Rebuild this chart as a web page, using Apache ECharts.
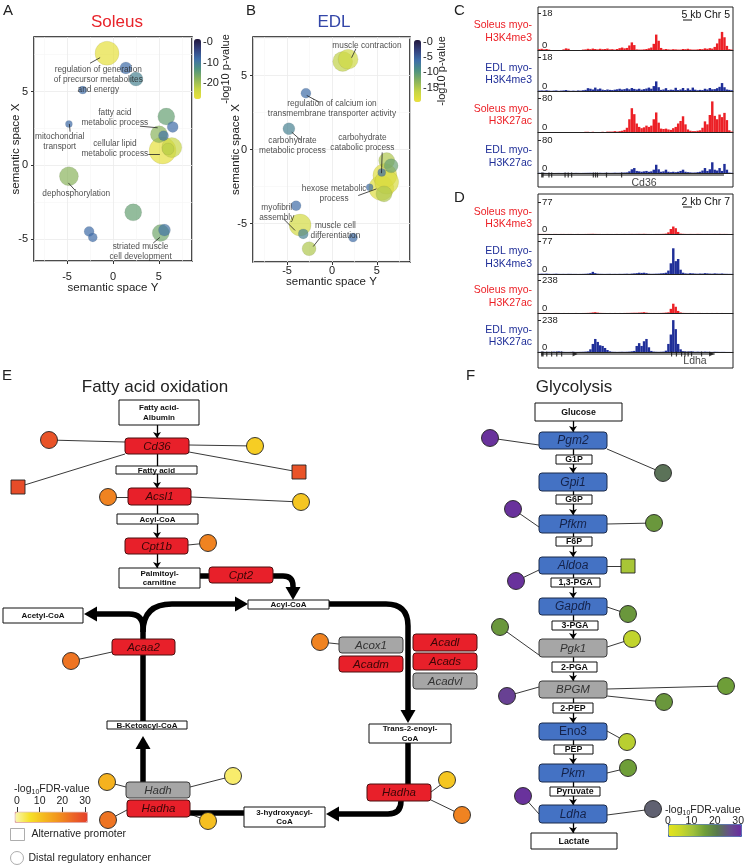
<!DOCTYPE html>
<html>
<head>
<meta charset="utf-8">
<title>Soleus vs EDL</title>
<script src="https://cdn.jsdelivr.net/npm/echarts@6.0.0/dist/echarts.min.js"></script>
<style>
html,body{margin:0;padding:0;background:#ffffff;}
#chart{width:747px;height:865px;}
</style>
</head>
<body>
<div id="chart"></div>
<script>
const FONT = '"Liberation Sans", Arial, Helvetica, sans-serif';

// ================= DATA =================
// Panel A (Soleus) REVIGO: [semantic space Y, semantic space X, bubble size, -log10 p-value (signed)]
const soleusPoints = [
  [-0.65, 7.6, 24, -27], [1.4, 6.6, 12, -8], [2.5, 5.85, 14, -11], [-3.3, 5.1, 8, -8],
  [-4.8, 2.8, 7, -8], [5.8, 3.3, 17, -15], [6.5, 2.6, 11, -8], [5.0, 2.1, 17, -18],
  [5.5, 2.0, 10, -9], [5.4, 1.0, 27, -27], [6.4, 1.2, 20, -23], [6.0, 1.1, 12, -22],
  [-4.8, -0.75, 19, -18], [2.2, -3.2, 17, -15], [-2.6, -4.5, 10, -8], [-2.2, -4.9, 9, -8],
  [5.2, -4.6, 17, -16], [5.6, -4.4, 12, -9]
];
const soleusLabels = [
  ['regulation of generation\nof precursor metabolites\nand energy', -1.6, 5.8],
  ['fatty acid\nmetabolic process', 0.2, 3.25],
  ['mitochondrial\ntransport', -5.8, 1.6],
  ['cellular lipid\nmetabolic process', 0.2, 1.15],
  ['dephosphorylation', -4.0, -1.93],
  ['striated muscle\ncell development', 3.0, -5.9]
];
const soleusLeaders = [
  [[-2.5, 6.92], [-1.4, 7.3]], [[2.93, 2.65], [4.86, 2.54]], [[-4.75, 2.8], [-4.67, 2.27]],
  [[3.84, 0.73], [5.1, 0.73]], [[-4.86, -1.2], [-4.13, -1.7]], [[4.38, -5.28], [5.1, -4.9]]
];
const soleusTicks = [0, -10, -20];

// Panel B (EDL)
const edlPoints = [
  [1.2, 5.95, 20, -16], [1.8, 6.1, 20, -17], [-2.9, 3.8, 10, -6], [-4.8, 1.4, 12, -8],
  [6.1, -0.75, 16, -15], [6.6, -1.1, 14, -11], [5.55, -1.55, 8, -6], [5.9, -1.75, 24, -18.5],
  [6.1, -2.2, 24, -18], [5.5, -2.6, 25, -18.5], [5.8, -3.0, 16, -15], [4.2, -2.55, 7, -6],
  [-4.0, -3.8, 10, -6], [-3.55, -5.1, 22, -17.5], [-3.2, -5.7, 10, -8], [2.35, -5.95, 9, -6],
  [-2.55, -6.7, 14, -15]
];
const edlLabels = [
  ['muscle contraction', 3.9, 7.03],
  ['regulation of calcium ion\ntransmembrane transporter activity', 0.0, 2.75],
  ['carbohydrate\nmetabolic process', -4.4, 0.27],
  ['carbohydrate\ncatabolic process', 3.39, 0.49],
  ['hexose metabolic\nprocess', 0.24, -2.99],
  ['myofibril\nassembly', -6.15, -4.24],
  ['muscle cell\ndifferentiation', 0.39, -5.52]
];
const edlLeaders = [
  [[2.67, 6.8], [2.19, 6.2]], [[-2.81, 3.65], [-1.41, 3.2]], [[-4.48, 1.17], [-3.44, 0.61]],
  [[5.6, -0.2], [5.52, -1.6]], [[2.93, -3.11], [4.96, -2.66]], [[-5.41, -4.68], [-4.11, -5.47]],
  [[-1.33, -5.97], [-2.08, -6.55]]
];
const edlTicks = [0, -5, -10, -15];

// Panels C/D: coverage in 80 genomic bins
const trackBins = Array.from({length: 80}, (_, i) => String(i));
const cTrackNames = ['Soleus myo-\nH3K4me3', 'EDL myo-\nH3K4me3', 'Soleus myo-\nH3K27ac', 'EDL myo-\nH3K27ac'];
const cTrackMax = [18, 18, 80, 80];
const cSolK4 = [0.4,0.6,0.3,0.5,0.2,0,0,0,0,0, 0.3,0.8,0.6,0,0,0,0,0,0.2,0.3,
  0.6,0.4,0.7,0.5,0.3,0.6,0.4,0.5,0.7,0.3, 0.4,0.2,0.5,0.9,1.2,0.8,1.0,2.2,3.7,2.4,
  0.3,0.2,0.2,0.3,0.5,0.8,1.2,3.0,7.5,4.5, 1.0,0.3,0.5,0.3,0.2,0.4,0.3,0.2,0.2,0.5,
  0.4,0.6,0.3,0.2,0.2,0.3,0.5,0.4,0.8,0.6, 0.9,0.7,1.5,3.2,5.5,8.8,6.2,2.0,0.4,0.2];
const cEdlK4 = [0.2,0.3,0.2,0.4,0.2,0.1,0.2,0.3,0.1,0.2, 0.3,0.5,0.2,0.1,0.2,0.1,0.3,0.2,0.4,0.6,
  1.5,1.2,0.8,1.8,0.9,1.3,0.7,0.5,0.8,0.6, 0.5,0.7,0.9,1.2,0.8,1.0,1.4,0.9,1.6,1.1,
  0.8,1.2,0.7,1.0,1.3,1.8,1.2,2.6,5.1,2.0, 0.6,0.8,1.5,0.5,0.7,0.6,1.7,0.5,0.8,1.6,
  0.5,1.4,0.6,1.8,0.7,0.4,0.6,0.5,1.2,0.8, 1.6,0.9,1.0,1.5,2.2,4.2,2.0,0.8,0.6,0.4];
const cSolK27 = [0,0,0,0,0,0,0,0,0,0, 0,0,0,0,0,0,0,0,0,0.5,
  0.5,0,0.5,0,0,0,0.5,0,1,1, 1,2,1,2,3,5,10,30,56,42,
  20,12,9,11,15,12,15,30,46,22, 8,7,8,6,5,9,12,20,26,37,
  18,6,3,2,2,3,4,10,25,18, 40,72,38,30,41,35,45,28,4,1];
const cEdlK27 = [0.5,0.3,0.4,0.2,0.3,0.2,0.1,0.2,0.3,0.2, 0.3,0.4,0.2,0.3,0.2,0.4,0.3,0.2,0.3,0.4,
  0.5,0.6,0.4,0.5,0.3,0.6,0.4,0.5,0.6,0.4, 0.5,0.8,0.6,0.7,1.0,1.2,1.5,4,9,12,
  5,4,3,4,5,3,4,8,20,9, 3,4,8,3,2,3,2,3,5,8,
  3,2,1.5,1,1.2,2,3,6,12,5, 9,26,8,6,12,5,22,8,1,0.5];
const cExons = [1.8, 4.5, 5.6, 11.1, 12.4, 13.8, 22.7, 23.6, 24.4, 28.1, 34.3];
const cGene = ['Cd36', 1.8, 76.3, 43.5];

const dTrackMax = [77, 77, 238, 238];
const dSolK4 = [0.3,0.2,0.2,0.3,0.2,0.1,0.2,0.2,0.1,0.2, 0.2,0.1,0.2,0.2,0.1,0.1,0.2,0.1,0.1,0.2,
  0.3,0.4,0.5,0.3,0.2,0.2,0.1,0.1,0.2,0.1, 0.1,0.1,0.2,0.1,0.1,0.2,0.1,0.2,0.3,0.2,
  0.3,0.4,0.3,0.5,0.3,0.2,0.1,0.1,0.2,0.2, 0.3,0.5,1,4,12,18,14,5,1,0.5,
  0.3,0.2,0.3,0.2,0.2,0.4,0.3,0.2,0.2,0.3, 0.2,0.2,0.3,0.2,0.4,0.2,0.3,0.2,0.1,0.1];
const dEdlK4 = [0.5,0.8,0.6,1,0.5,0.3,0.5,0.8,0.4,0.3, 0.4,0.3,0.5,0.4,0.3,0.3,0.2,0.3,0.4,0.6,
  1,2,5,2,0.8,0.5,0.4,0.3,0.4,0.5, 0.3,0.4,0.3,0.5,0.4,0.6,0.8,0.5,1,1.5,
  2,3,2.5,3,2,0.8,0.5,0.6,0.8,1, 1.5,2,3,8,25,60,30,35,10,3,
  1.5,1,2,1.5,1,0.8,1.2,1,2,1.5, 1,0.8,1.5,1,0.8,1.2,0.6,0.5,0.4,0.3];
const dSolK27 = [0.5,0.3,0.5,0.4,0.3,0.2,0.3,0.5,0.3,0.2, 0.3,0.2,0.3,0.2,0.2,0.3,0.2,0.2,0.3,0.5,
  1,2,4,6,3,1,0.5,0.3,0.2,0.3, 0.2,0.3,0.2,0.3,0.2,0.5,0.8,1,1.5,2,
  2,3,4,6,3,1,0.5,0.5,0.3,0.5, 0.8,1.5,3,5,30,67,45,15,4,1,
  0.5,0.3,0.5,0.3,0.2,0.3,0.5,0.3,0.2,0.3, 0.2,0.3,0.2,0.3,0.2,0.3,0.2,0.2,0.1,0.1];
const dEdlK27 = [1,2,1.5,1,2,1,3,2,5,3, 1.5,1,1,1.5,2,1,1,1.5,2,3,
  5,20,60,97,75,50,45,30,15,5, 2,1.5,1,1.5,2,1.5,2,3,5,8,
  45,66,45,80,97,35,8,3,2,1.5, 2,3,10,60,130,237,170,60,20,6,
  4,3,5,4,2,3,2,1.5,3,2, 1.5,1,2,1.5,1,1,1,0.5,0.5,0.3];
const dExons = [1.8, 3.6, 5.6, 7.7, 9.7, 54.8, 56.8, 58.9, 60.3, 61.6, 63.0, 67.1];
const dStrand = [15.2, 71.2];
const dGene = ['Ldha', 1.2, 72.5, 64.4];

// Panel E: fatty acid oxidation (diagram units)
const faoNodes = [
  ['Fatty acid-\nAlbumin', 119,400,199,425,'met'], ['Cd36', 125,438,189,454,'red'],
  ['Fatty acid', 116,466,197,474,'met'], ['Acsl1', 128,488,191,505,'red'],
  ['Acyl-CoA', 117,514,198,524,'met'], ['Cpt1b', 125,538,188,554,'red'],
  ['Palmitoyl-\ncarnitine', 119,568,200,588,'met'], ['Cpt2', 209,567,273,583,'red'],
  ['Acyl-CoA', 248,600,329,609,'met'], ['Acetyl-CoA', 3,608,83,623,'met'],
  ['Acaa2', 112,639,175,655,'red'], ['B-Ketoacyl-CoA', 107,721,187,729,'met'],
  ['Hadh', 126,782,190,798,'grey'], ['Hadha', 127,800,190,817,'red'],
  ['3-hydroxyacyl-\nCoA', 244,807,325,827,'met'], ['Hadha', 367,784,431,801,'red'],
  ['Trans-2-enoyl-\nCoA', 369,724,451,743,'met'], ['Acox1', 339,637,403,653,'grey'],
  ['Acadm', 339,656,403,672,'red'], ['Acadl', 413,634,477,651,'red'],
  ['Acads', 413,653,477,670,'red'], ['Acadvl', 413,673,477,689,'grey']
];
const faoSteps = [[157,425,157,438,1],[157,454,157,466,0],[157,474,157,488,1],
  [157,505,157,514,0],[157,524,157,538,1],[157,554,157,568,1]];
const faoFlux = [
  {segs:[['M',200,576],['L',209,576]], arrow:false},
  {segs:[['M',273,576],['L',283,576],['Q',293,576,293,586],['L',293,587]], arrow:true},
  {segs:[['M',329,604],['L',386,604],['Q',408,604,408,626],['L',408,710]], arrow:true},
  {segs:[['M',408,743],['L',408,784]], arrow:false},
  {segs:[['M',401,801],['Q',401,814,388,814],['L',339,814]], arrow:true},
  {segs:[['M',244,813],['L',190,813]], arrow:false},
  {segs:[['M',143,782],['L',143,749]], arrow:true},
  {segs:[['M',143,721],['L',143,655]], arrow:false},
  {segs:[['M',143,639],['L',143,628],['Q',143,614,129,614],['L',97,614]], arrow:true},
  {segs:[['M',143,632],['Q',143,604,172,604],['L',235,604]], arrow:true}
];
// regulatory elements: [x, y, shape (c=enhancer, s=alt promoter), -log10 FDR, gene anchor x, anchor y]
const faoMarkers = [
  [49,440,'c',27,125,442], [255,446,'c',9,189,445], [18,487,'s',28,125,454], [299,472,'s',27,189,452],
  [108,497,'c',20,128,497], [301,502,'c',10,191,497], [208,543,'c',20,188,545], [71,661,'c',22,112,652],
  [320,642,'c',20,339,644], [107,782,'c',13,126,787], [233,776,'c',3,190,787], [108,820,'c',22,127,810],
  [208,821,'c',11,190,814], [447,780,'c',10,431,792], [462,815,'c',20,431,800]
];

// Panel F: glycolysis
const glyNodes = [
  ['Glucose',535,403,622,421,'metF'], ['Pgm2',539,432,607,449,'blue'], ['G1P',556,455,592,464,'metF'],
  ['Gpi1',539,473,607,491,'blue'], ['G6P',556,495,592,504,'metF'], ['Pfkm',539,515,607,533,'blue'],
  ['F6P',556,537,592,546,'metF'], ['Aldoa',539,557,607,574,'blue'], ['1,3-PGA',551,578,600,587,'metF'],
  ['Gapdh',539,598,607,615,'blue'], ['3-PGA',552,621,598,630,'metF'], ['Pgk1',539,639,607,657,'grey'],
  ['2-PGA',552,662,597,672,'metF'], ['BPGM',539,681,607,698,'grey'], ['2-PEP',553,703,593,713,'metF'],
  ['Eno3',539,723,607,740,'blueN'], ['PEP',554,745,593,754,'metF'], ['Pkm',539,764,607,782,'blue'],
  ['Pyruvate',550,787,600,796,'metF'], ['Ldha',539,805,607,823,'blue'], ['Lactate',531,833,617,849,'metF']
];
const glyMarkers = [
  [490,438,'c',29,539,445], [663,473,'c',21,607,449], [513,509,'c',29,539,527], [654,523,'c',16,607,524],
  [628,566,'s',9,607,566], [516,581,'c',29,539,570], [628,614,'c',16,607,607], [500,627,'c',16,539,655],
  [632,639,'c',6,607,647], [507,696,'c',27,539,687], [726,686,'c',15,607,689], [664,702,'c',16,607,696],
  [627,742,'c',7,607,731], [628,768,'c',15,607,773], [523,796,'c',29,539,814], [653,809,'c',23,607,815]
];
const fdrTicks = [0, 10, 20, 30];

// ================= STYLE =================
const pvalColors = ['#ebe23a','#c6d545','#8ab35c','#4f937f','#3e6ea8','#33407c','#22163b'];
const faoColors = ['#faf6b0','#f6e128','#f5b81f','#f2921e','#ec6526','#e5402a'];
const glyColors = ['#e4e41c','#c9d82a','#a0c23a','#6e9e38','#587a4c','#66508a','#6a2ba0'];
const RED = '#ec2026', BLUE = '#1f2e98';
const BOX = {
  met:  {fill:'#fff', stroke:'#111', lw:1, r:0, color:'#111', size:8, weight:'bold', fstyle:'normal', lh:9.5},
  metF: {fill:'#fff', stroke:'#111', lw:1, r:0, color:'#111', size:8.8, weight:'bold', fstyle:'normal', lh:10},
  red:  {fill:'#e8202a', stroke:'#4a0e0e', lw:1, r:3, color:'#3a0606', size:11.5, weight:'normal', fstyle:'italic', lh:12},
  grey: {fill:'#a6a6a6', stroke:'#3a3a3a', lw:1, r:3, color:'#333', size:11.5, weight:'normal', fstyle:'italic', lh:12},
  blue: {fill:'#4472c4', stroke:'#1a2a4a', lw:1, r:3, color:'#14224a', size:12, weight:'normal', fstyle:'italic', lh:12},
  blueN:{fill:'#4472c4', stroke:'#1a2a4a', lw:1, r:3, color:'#14224a', size:12, weight:'normal', fstyle:'normal', lh:12}
};

// ================= BUILD =================
const grids = [], xAxes = [], yAxes = [], series = [], visualMaps = [];
function addGrid(g, xa, ya) {
  grids.push(g); const i = grids.length - 1;
  xa.gridIndex = i; ya.gridIndex = i; xAxes.push(xa); yAxes.push(ya); return i;
}
function addSeries(s) { series.push(s); return series.length - 1; }
const hiddenAxis = (o) => Object.assign({type:'value', show:false, splitLine:{show:false}, axisLine:{onZero:false}}, o || {});
const bySizeDesc = (pts) => pts.slice().sort((a, b) => b[2] - a[2]);

function scatterPanel(cfg) {
  const g = addGrid(
    {left:cfg.left, top:37, width:cfg.width, height:cfg.height, show:true, borderColor:'#111', borderWidth:1.5, backgroundColor:'#fff'},
    {type:'value', min:cfg.xr[0], max:cfg.xr[1], minInterval:5, maxInterval:5,
      axisLine:{show:false, onZero:false}, axisTick:{show:true, length:3, lineStyle:{color:'#333'}},
      axisLabel:{showMinLabel:false, showMaxLabel:false, fontSize:11, color:'#222', margin:cfg.xm, fontFamily:FONT},
      splitLine:{show:true, lineStyle:{color:'#ebebeb', width:0.8}},
      minorTick:{show:false, splitNumber:2}, minorSplitLine:{show:true, lineStyle:{color:'#f5f5f5', width:0.6}},
      name:'semantic space Y', nameLocation:'middle', nameGap:cfg.xg, nameMoveOverlap:false,
      nameTextStyle:{fontSize:11.5, color:'#222', fontFamily:FONT}},
    {type:'value', min:cfg.yr[0], max:cfg.yr[1], minInterval:5, maxInterval:5,
      axisLine:{show:false, onZero:false}, axisTick:{show:true, length:3, lineStyle:{color:'#333'}},
      axisLabel:{showMinLabel:false, showMaxLabel:false, fontSize:11, color:'#222', margin:cfg.ym, fontFamily:FONT},
      splitLine:{show:true, lineStyle:{color:'#ebebeb', width:0.8}},
      minorTick:{show:false, splitNumber:2}, minorSplitLine:{show:true, lineStyle:{color:'#f5f5f5', width:0.6}},
      name:'semantic space X', nameLocation:'middle', nameGap:cfg.yg, nameMoveOverlap:false,
      nameTextStyle:{fontSize:11.5, color:'#222', fontFamily:FONT}}
  );
  const pts = bySizeDesc(cfg.points);
  const si = addSeries({type:'scatter', xAxisIndex:g, yAxisIndex:g, data:pts, symbolSize:(v) => v[2],
    itemStyle:{opacity:0.7, borderColor:'rgba(60,60,60,0.25)', borderWidth:0.5}, z:3, silent:true});
  addSeries({type:'lines', coordinateSystem:'cartesian2d', xAxisIndex:g, yAxisIndex:g,
    data:cfg.leaders.map(c => ({coords:c})), lineStyle:{color:'#222', width:0.8, opacity:1}, symbol:'none', z:4, silent:true});
  const labs = cfg.labels;
  addSeries({type:'scatter', xAxisIndex:g, yAxisIndex:g, data:labs.map(l => [l[1], l[2]]), symbolSize:1,
    itemStyle:{color:'rgba(0,0,0,0)'}, z:5, silent:true,
    label:{show:true, position:'inside', formatter:(p) => labs[p.dataIndex][0], fontSize:8.3, lineHeight:10,
      color:'#222', align:'center', fontFamily:FONT}});
  // colour bar axis
  const cb = cfg.cb;
  addGrid({left:cb.left, top:cb.top, width:7, height:cb.h},
    hiddenAxis({min:0, max:1}),
    {type:'value', position:'right', min:cb.min, max:cb.max, axisLine:{show:false, onZero:false}, axisTick:{show:false}, splitLine:{show:false},
      axisLabel:{customValues:cb.ticks, formatter:(v) => v === 0 ? '-0' : String(v), fontSize:11, color:'#222', margin:2, fontFamily:FONT},
      name:'-log10 p-value', nameLocation:'middle', nameRotate:90, nameGap:cb.gap, nameMoveOverlap:false,
      nameTextStyle:{fontSize:11, color:'#222', fontFamily:FONT}});
  visualMaps.push({type:'continuous', seriesIndex:si, dimension:3, min:cb.min, max:cb.max, inRange:{color:pvalColors},
    show:true, orient:'vertical', left:cb.left, top:cb.top, itemWidth:7, itemHeight:cb.h, padding:0, calculable:false,
    hoverLink:false, text:null, showLabel:false});
}

scatterPanel({left:34, width:158, height:224, xr:[-8.6, 8.6], yr:[-6.5, 8.7], xm:10, xg:21, ym:6, yg:12,
  points:soleusPoints, labels:soleusLabels, leaders:soleusLeaders,
  cb:{left:194, top:39, h:60, min:-27.8, max:1.5, ticks:soleusTicks, gap:19}});
scatterPanel({left:253, width:157, height:225, xr:[-8.8, 8.7], yr:[-7.6, 7.6], xm:3, xg:14, ym:6, yg:11,
  points:edlPoints, labels:edlLabels, leaders:edlLeaders,
  cb:{left:414, top:40, h:62, min:-19.7, max:0.65, ticks:edlTicks, gap:15}});

// ---- genome browser panels ----
function trackPanel(cfg) {
  addGrid({left:538, top:cfg.box[0], width:195, height:cfg.box[1] - cfg.box[0], show:true, borderColor:'#222', borderWidth:1},
    hiddenAxis({min:0, max:1}), hiddenAxis({min:0, max:1}));
  cfg.tracks.forEach((tr, k) => {
    const [t, b] = cfg.layout[k];
    const col = k % 2 === 0 ? RED : BLUE;
    const g = addGrid({left:538, top:t, width:195, height:b - t},
      {type:'category', data:trackBins, boundaryGap:true, axisLine:{show:true, onZero:false, lineStyle:{color:'#222', width:1}},
        axisTick:{show:false}, axisLabel:{show:false}, splitLine:{show:false}},
      {type:'value', min:0, max:cfg.max[k], interval:cfg.max[k], axisLine:{show:false},
        axisTick:{show:true, inside:true, length:3, lineStyle:{color:'#222'}}, splitLine:{show:false},
        axisLabel:{inside:true, margin:4, fontSize:9.5, color:'#222', fontFamily:FONT,
          formatter:(v) => v === 0 ? '{lo|0}' : '{hi|' + v + '}',
          rich:{lo:{padding:[0,0,10,0], fontSize:9.5, color:'#222'}, hi:{padding:[1,0,0,0], fontSize:9.5, color:'#222'}}},
        name:cTrackNames[k], nameLocation:'middle', nameRotate:0, nameGap:6, nameMoveOverlap:false,
        nameTextStyle:{color:col, fontSize:10.5, lineHeight:12.5, align:'right', fontFamily:FONT}});
    addSeries({type:'bar', xAxisIndex:g, yAxisIndex:g, data:tr, barCategoryGap:'0%', barGap:'0%',
      itemStyle:{color:col}, silent:true, z:2});
  });
  const gene = cfg.gene;
  const gg = addGrid({left:538, top:cfg.geneTop, width:195, height:cfg.geneH},
    hiddenAxis({min:0, max:80}), hiddenAxis({min:0, max:cfg.geneH, inverse:true}));
  addSeries({type:'line', xAxisIndex:gg, yAxisIndex:gg, data:[[gene[1], 2], [gene[2], 2]], symbol:'none',
    lineStyle:{color:'#111', width:1}, silent:true});
  addSeries({type:'scatter', xAxisIndex:gg, yAxisIndex:gg, data:cfg.exons.map(e => [e, 2]),
    symbol:'rect', symbolSize:(v, p) => p.dataIndex === 0 ? [2.5, 5] : [1.2, 5], itemStyle:{color:'#111'}, silent:true});
  if (cfg.strand) addSeries({type:'scatter', xAxisIndex:gg, yAxisIndex:gg, data:cfg.strand.map(e => [e, 2]),
    symbol:'triangle', symbolRotate:-90, symbolSize:5, itemStyle:{color:'#111'}, silent:true});
  addSeries({type:'scatter', xAxisIndex:gg, yAxisIndex:gg, data:[[gene[3], cfg.labelY]], symbolSize:1,
    itemStyle:{color:'rgba(0,0,0,0)'}, silent:true,
    label:{show:true, position:'inside', formatter:gene[0], fontSize:10.5, color:'#111', fontFamily:FONT}});
}
trackPanel({box:[7, 187], layout:[[13,50],[57,91],[98,132],[140,173]], max:cTrackMax,
  tracks:[cSolK4, cEdlK4, cSolK27, cEdlK27], gene:cGene, exons:cExons, geneTop:173, geneH:14, labelY:10});
trackPanel({box:[194, 368], layout:[[202,234],[241,274],[280,313],[320,352]], max:dTrackMax,
  tracks:[dSolK4, dEdlK4, dSolK27, dEdlK27], gene:dGene, exons:dExons, strand:dStrand, geneTop:352, geneH:16, labelY:9});

// ---- pathway diagrams ----
const gD = addGrid({left:0, top:0, width:747, height:865},
  hiddenAxis({min:0, max:747}), hiddenAxis({min:0, max:865, inverse:true}));

function boxRenderer(nodes) {
  return function (params, api) {
    const nd = nodes[params.dataIndex];
    const p1 = api.coord([nd[1], nd[2]]), p2 = api.coord([nd[3], nd[4]]);
    const st = BOX[nd[5]];
    const x = Math.min(p1[0], p2[0]), y = Math.min(p1[1], p2[1]);
    const w = Math.abs(p2[0] - p1[0]), h = Math.abs(p2[1] - p1[1]);
    return {type:'group', children:[
      {type:'rect', shape:{x:x, y:y, width:w, height:h, r:st.r}, style:{fill:st.fill, stroke:st.stroke, lineWidth:st.lw}},
      {type:'text', style:{text:nd[0], x:x + w / 2, y:y + h / 2 + 0.5, align:'center', verticalAlign:'middle', fill:st.color,
        fontSize:st.size, fontWeight:st.weight, fontStyle:st.fstyle, fontFamily:FONT, lineHeight:st.lh}}
    ]};
  };
}
function fluxRenderer(paths) {
  return function (params, api) {
    const p = paths[params.dataIndex];
    let d = '', last = null, prev = null;
    p.segs.forEach(s => {
      if (s[0] === 'Q') {
        const c = api.coord([s[1], s[2]]), q = api.coord([s[3], s[4]]);
        d += 'Q' + c[0] + ' ' + c[1] + ' ' + q[0] + ' ' + q[1] + ' '; prev = c; last = q;
      } else {
        const q = api.coord([s[1], s[2]]);
        d += s[0] + q[0] + ' ' + q[1] + ' '; prev = last; last = q;
      }
    });
    const children = [{type:'path', shape:{pathData:d}, style:{stroke:'#000', lineWidth:5.5, fill:null, lineJoin:'round'}}];
    if (p.arrow) {
      const dx = last[0] - prev[0], dy = last[1] - prev[1], L = Math.hypot(dx, dy) || 1;
      const ux = dx / L, uy = dy / L, len = 13, half = 7.5;
      children.push({type:'polygon', shape:{points:[[last[0] + ux * len, last[1] + uy * len],
        [last[0] - uy * half, last[1] + ux * half], [last[0] + uy * half, last[1] - ux * half]]}, style:{fill:'#000'}});
    }
    return {type:'group', children:children};
  };
}
const center = (n) => [(n[1] + n[3]) / 2, (n[2] + n[4]) / 2];

// regulatory connectors (under everything)
addSeries({type:'lines', coordinateSystem:'cartesian2d', xAxisIndex:gD, yAxisIndex:gD, silent:true, symbol:'none',
  data:faoMarkers.concat(glyMarkers).map(m => ({coords:[[m[4], m[5]], [m[0], m[1]]]})),
  lineStyle:{color:'#222', width:0.9, opacity:1}, z:2});
// thick flux arrows
addSeries({type:'custom', coordinateSystem:'cartesian2d', xAxisIndex:gD, yAxisIndex:gD, silent:true,
  data:faoFlux.map(p => [p.segs[0][1], p.segs[0][2]]), renderItem:fluxRenderer(faoFlux), z:3});
// thin step arrows (E + F)
const glySteps = [];
for (let k = 0; k < glyNodes.length - 1; k++) {
  const a = glyNodes[k], b = glyNodes[k + 1];
  glySteps.push([573, a[4], 573, b[2], (a[5].indexOf('met') === 0 || k === glyNodes.length - 2) ? 1 : 0]);
}
const allSteps = faoSteps.concat(glySteps);
addSeries({type:'lines', coordinateSystem:'cartesian2d', xAxisIndex:gD, yAxisIndex:gD, silent:true,
  symbol:['none', 'arrow'], symbolSize:6,
  data:allSteps.filter(s => s[4]).map(s => ({coords:[[s[0], s[1]], [s[2], s[3]]]})),
  lineStyle:{color:'#000', width:1.3, opacity:1}, z:3});
addSeries({type:'lines', coordinateSystem:'cartesian2d', xAxisIndex:gD, yAxisIndex:gD, silent:true, symbol:'none',
  data:allSteps.filter(s => !s[4]).map(s => ({coords:[[s[0], s[1]], [s[2], s[3]]]})),
  lineStyle:{color:'#000', width:1.3, opacity:1}, z:3});
// boxes
addSeries({type:'custom', coordinateSystem:'cartesian2d', xAxisIndex:gD, yAxisIndex:gD, silent:true,
  data:faoNodes.map(center), renderItem:boxRenderer(faoNodes), z:4});
addSeries({type:'custom', coordinateSystem:'cartesian2d', xAxisIndex:gD, yAxisIndex:gD, silent:true,
  data:glyNodes.map(center), renderItem:boxRenderer(glyNodes), z:4});
// markers
function markerSeries(list) {
  return addSeries({type:'scatter', xAxisIndex:gD, yAxisIndex:gD, silent:true, z:5,
    data:list.map(m => [m[0], m[1], m[3]]),
    symbol:(v, p) => list[p.dataIndex][2] === 's' ? 'rect' : 'circle',
    symbolSize:(v, p) => list[p.dataIndex][2] === 's' ? 14 : 17,
    itemStyle:{borderColor:'#222', borderWidth:0.9, opacity:1}});
}
const faoIdx = markerSeries(faoMarkers);
const glyIdx = markerSeries(glyMarkers);
// legend dummy series
addSeries({type:'scatter', name:'Alternative promoter', xAxisIndex:gD, yAxisIndex:gD, data:[], symbol:'rect',
  itemStyle:{color:'#fff', borderColor:'#999', borderWidth:1}});
addSeries({type:'scatter', name:'Distal regulatory enhancer', xAxisIndex:gD, yAxisIndex:gD, data:[], symbol:'circle',
  itemStyle:{color:'#fff', borderColor:'#999', borderWidth:1}});

// FDR colour bars
visualMaps.push({type:'continuous', seriesIndex:faoIdx, dimension:2, min:0, max:30, inRange:{color:faoColors},
  show:true, orient:'horizontal', left:15, top:812, itemWidth:10, itemHeight:72, padding:0, calculable:false,
  hoverLink:false, text:null, showLabel:false, borderColor:'#c0504d', borderWidth:0.6});
visualMaps.push({type:'continuous', seriesIndex:glyIdx, dimension:2, min:0, max:30, inRange:{color:glyColors},
  show:true, orient:'horizontal', left:668, top:824, itemWidth:12, itemHeight:73, padding:0, calculable:false,
  hoverLink:false, text:null, showLabel:false, borderColor:'#3b63b0', borderWidth:1});
function fdrAxis(left, top, width, height, margin, tickLen, inside) {
  addGrid({left:left, top:top, width:width, height:height},
    {type:'value', min:0, max:30, interval:10, position:'top', axisLine:{show:false, onZero:false},
      axisTick:{show:true, length:tickLen, inside:inside, lineStyle:{color:'#333'}}, splitLine:{show:false},
      axisLabel:{customValues:fdrTicks, margin:margin, fontSize:10.5, color:'#222', fontFamily:FONT}},
    hiddenAxis({min:0, max:1}));
}
fdrAxis(17, 812, 68, 10, 5, 5, false);
fdrAxis(668, 824, 73, 12, -3, 4, true);

// ---- free text ----
const txt = (x, y, text, o) => ({type:'text', x:x, y:y, silent:true,
  style:Object.assign({text:text, fontFamily:FONT, fontSize:14, fill:'#222', align:'left', verticalAlign:'top'}, o || {})});
const graphics = [
  txt(3, 3, 'A', {fontSize:15}), txt(246, 3, 'B', {fontSize:15}), txt(454, 3, 'C', {fontSize:15}),
  txt(454, 190, 'D', {fontSize:15}), txt(2, 368, 'E', {fontSize:15}), txt(466, 368, 'F', {fontSize:15}),
  txt(117, 22, 'Soleus', {fontSize:17, fill:'#e8232a', align:'center', verticalAlign:'middle'}),
  txt(334, 22, 'EDL', {fontSize:17, fill:'#3346a8', align:'center', verticalAlign:'middle'}),
  txt(155, 387, 'Fatty acid oxidation', {fontSize:17, align:'center', verticalAlign:'middle'}),
  txt(574, 387, 'Glycolysis', {fontSize:17, align:'center', verticalAlign:'middle'}),
  txt(730, 15, '5 kb Chr 5', {fontSize:10.5, align:'right', verticalAlign:'middle', fill:'#111'}),
  txt(730, 202, '2 kb Chr 7', {fontSize:10.5, align:'right', verticalAlign:'middle', fill:'#111'}),
  {type:'line', silent:true, shape:{x1:683, y1:20, x2:692, y2:20}, style:{stroke:'#111', lineWidth:1}},
  {type:'line', silent:true, shape:{x1:683, y1:207, x2:692, y2:207}, style:{stroke:'#111', lineWidth:1}},
  txt(14, 789, '-log{s|10}FDR-value', {fontSize:10.5, verticalAlign:'middle', rich:{s:{fontSize:7, padding:[6,0,0,0], fill:'#222'}}}),
  txt(665, 810, '-log{s|10}FDR-value', {fontSize:10.5, verticalAlign:'middle', rich:{s:{fontSize:7, padding:[6,0,0,0], fill:'#222'}}})
];

const legendBase = {orient:'horizontal', left:10, padding:0, selectedMode:false};
const option = {
  animation:false,
  backgroundColor:'#ffffff',
  textStyle:{fontFamily:FONT},
  grid:grids, xAxis:xAxes, yAxis:yAxes, series:series, visualMap:visualMaps,
  legend:[
    Object.assign({}, legendBase, {top:828, itemWidth:14, itemHeight:12,
      textStyle:{fontSize:10.5, color:'#222', fontFamily:FONT, padding:[0,0,0,2]},
      data:[{name:'Alternative promoter', icon:'rect', itemStyle:{color:'#fff', borderColor:'#999', borderWidth:1}}]}),
    Object.assign({}, legendBase, {top:851, itemWidth:13, itemHeight:13,
      textStyle:{fontSize:10.5, color:'#222', fontFamily:FONT},
      data:[{name:'Distal regulatory enhancer', icon:'circle', itemStyle:{color:'#fff', borderColor:'#999', borderWidth:1}}]})
  ],
  graphic:graphics
};
const chart = echarts.init(document.getElementById('chart'), null, {renderer:'canvas', width:747, height:865});
chart.setOption(option);
</script>
</body>
</html>
